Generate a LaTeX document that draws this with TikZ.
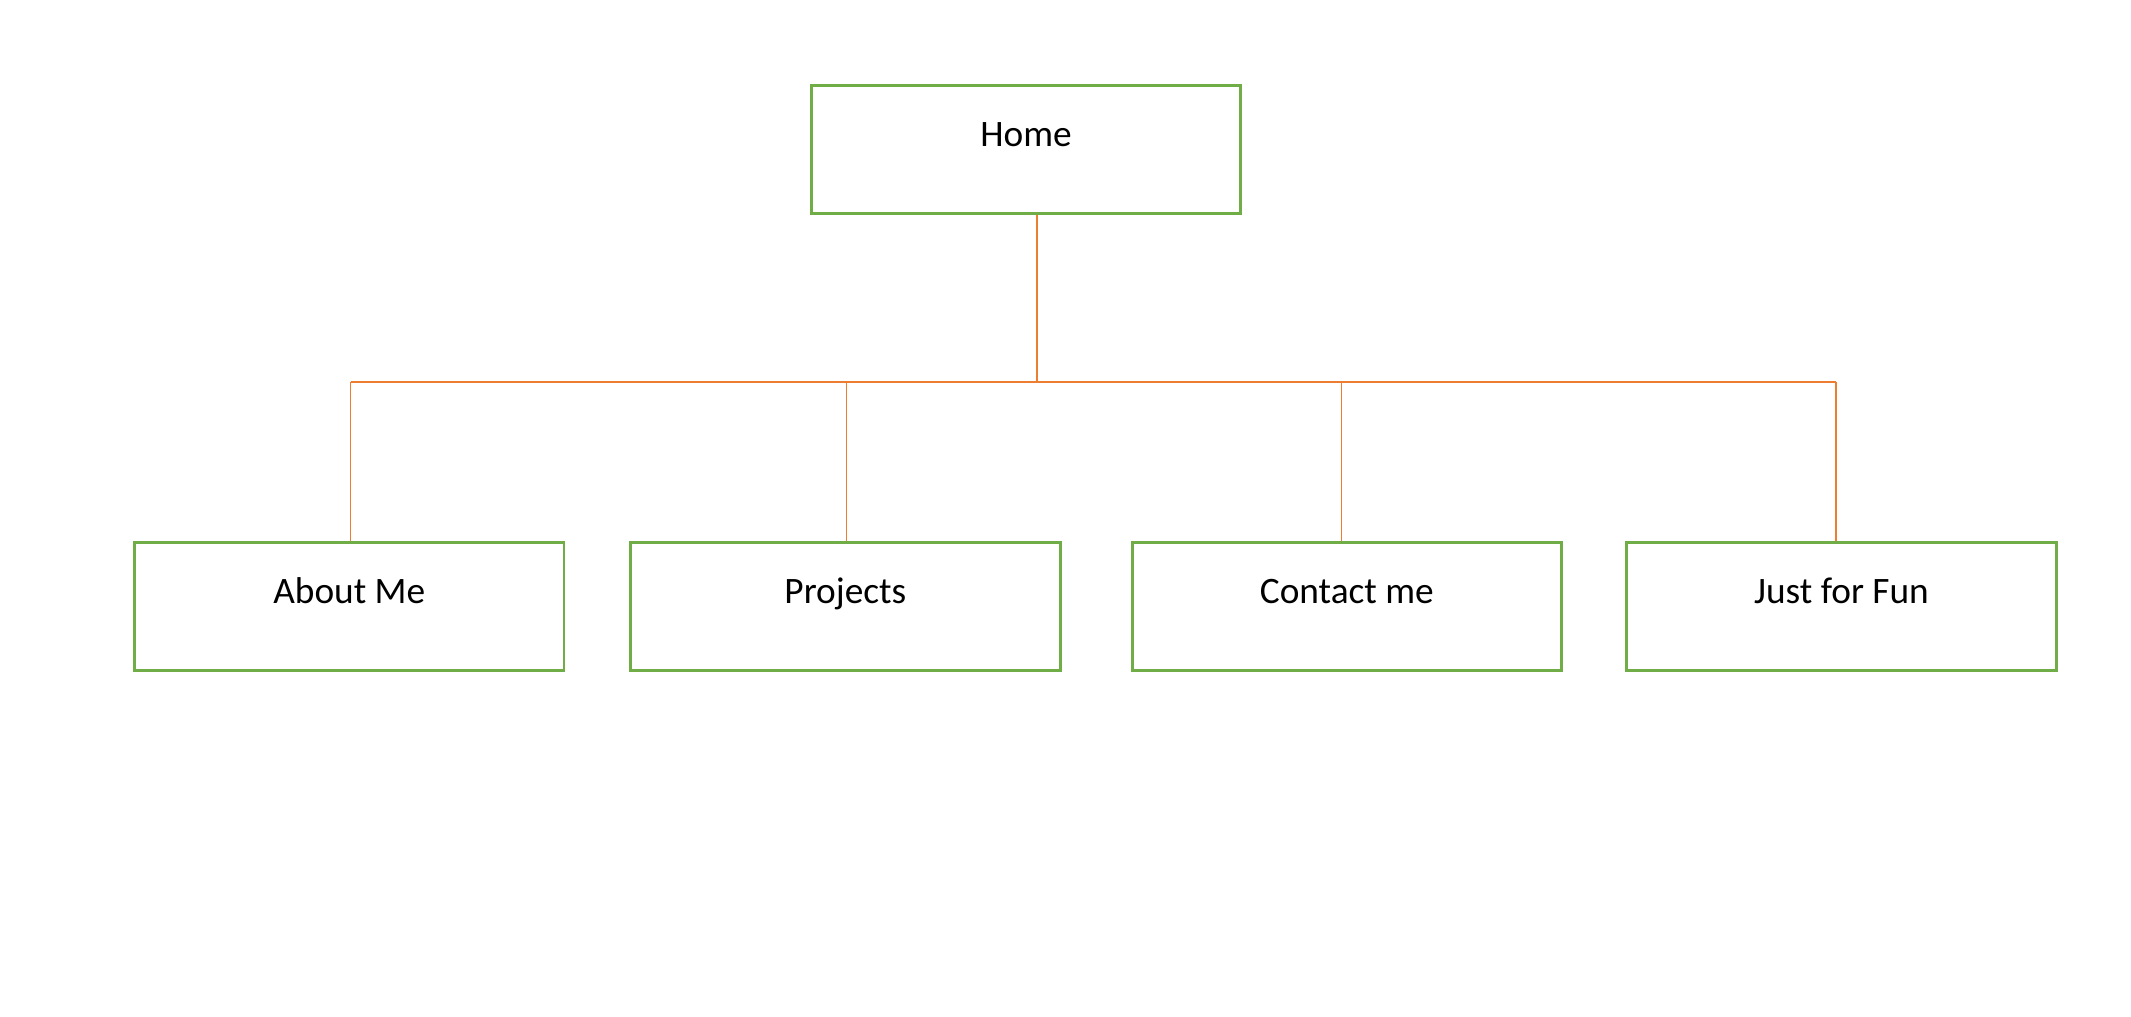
\documentclass[tikz,border=0pt]{standalone}
\usepackage{fontspec}
\setmainfont{Carlito}
\definecolor{boxgreen}{HTML}{70AD47}
\definecolor{lineorange}{HTML}{ED7D31}
\begin{document}
\begin{tikzpicture}[x=0.75pt,y=-0.75pt,
  pagebox/.style={draw=boxgreen, line width=1.6pt, rectangle, inner sep=0pt,
    minimum width=237pt, text height=33.75pt, text depth=36.75pt,
    anchor=north, font=\fontsize{20.6}{24}\selectfont},
  link/.style={draw=lineorange, line width=0.75pt}]
\useasboundingbox (0,0) rectangle (1568,748);
\node[pagebox] (home) at (755,62) {Home};
\node[pagebox] (about) at (257,398) {About Me};
\node[pagebox] (proj) at (622,398) {Projects};
\node[pagebox] (cont) at (991,398) {Contact me};
\node[pagebox] (fun) at (1355,398) {Just for Fun};
\coordinate (hj) at (763,281);
\coordinate (b1) at (258,281);
\coordinate (b2) at (623,281);
\coordinate (b3) at (987,281);
\coordinate (b4) at (1351,281);
\draw[link] (home.south -| hj) -- (hj);
\draw[link] (b1) -- (b4);
\draw[link] (b1) -- (about.north -| b1);
\draw[link] (b2) -- (proj.north -| b2);
\draw[link] (b3) -- (cont.north -| b3);
\draw[link] (b4) -- (fun.north -| b4);
\end{tikzpicture}
\end{document}
